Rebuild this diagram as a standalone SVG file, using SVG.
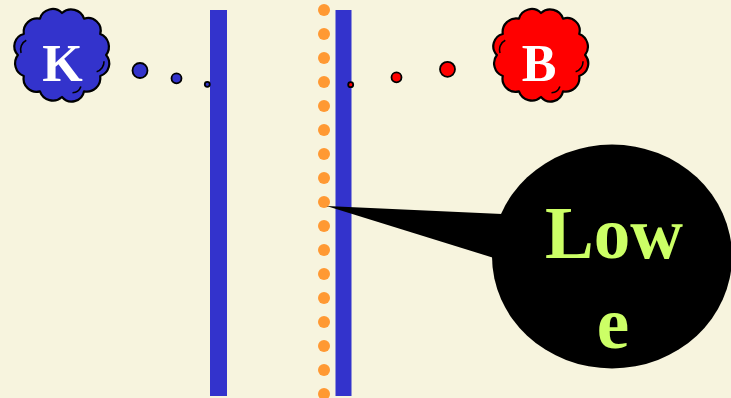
<svg xmlns="http://www.w3.org/2000/svg" xmlns:xlink="http://www.w3.org/1999/xlink" width="731" height="398" viewBox="0 0 731 398">
<style>
.bar{fill:#3333CC}
.dot{fill:#FF9933}
.cloud{stroke:#000;stroke-width:2.1;stroke-linejoin:round}
.puff{stroke:#000;stroke-width:1.8}
.inner{fill:none;stroke:#000;stroke-width:1.5}
.lbl{font-family:"Liberation Serif","Times New Roman",serif;font-weight:bold;text-anchor:middle}
</style>
<defs>
<path id="cloudShape" d="M42,0 A12.5,12.5 0 0 1 36.4,20 A13,13 0 0 1 21,34.6 A12,12 0 0 1 0,40 A13,13 0 0 1 -21,34.6 A12.5,12.5 0 0 1 -36.4,20 A13,13 0 0 1 -42,0 A12,12 0 0 1 -36.4,-20 A13,13 0 0 1 -21,-34.6 A12.5,12.5 0 0 1 0,-40 A13,13 0 0 1 21,-34.6 A12,12 0 0 1 36.4,-20 A13,13 0 0 1 42,0 Z"/>
<path id="cloudInner" d="M33,16 A10,10 0 0 0 40,6 M-34,-14 A10,10 0 0 0 -39,-2 M10,36 A9,9 0 0 0 18,30"/>
</defs>
<rect id="background" x="0" y="0" width="731" height="398" fill="#F7F4DE"/>
<g id="barLeft"><rect class="bar" x="210" y="10" width="17" height="386"/></g>
<g id="barRight"><rect class="bar" x="335.5" y="10" width="16" height="386"/></g>
<g id="dots">
<circle class="dot" cx="324" cy="10" r="6"/>
<circle class="dot" cx="324" cy="34" r="6"/>
<circle class="dot" cx="324" cy="58" r="6"/>
<circle class="dot" cx="324" cy="82" r="6"/>
<circle class="dot" cx="324" cy="106" r="6"/>
<circle class="dot" cx="324" cy="130" r="6"/>
<circle class="dot" cx="324" cy="154" r="6"/>
<circle class="dot" cx="324" cy="178" r="6"/>
<circle class="dot" cx="324" cy="202" r="6"/>
<circle class="dot" cx="324" cy="226" r="6"/>
<circle class="dot" cx="324" cy="250" r="6"/>
<circle class="dot" cx="324" cy="274" r="6"/>
<circle class="dot" cx="324" cy="298" r="6"/>
<circle class="dot" cx="324" cy="322" r="6"/>
<circle class="dot" cx="324" cy="346" r="6"/>
<circle class="dot" cx="324" cy="370" r="6"/>
<circle class="dot" cx="324" cy="394" r="6"/>
</g>
<g id="cloudK">
<use xlink:href="#cloudShape" href="#cloudShape" class="cloud" fill="#3333CC" transform="translate(62,55) scale(1.05)"/>
<use xlink:href="#cloudInner" href="#cloudInner" class="inner" transform="translate(62,55) scale(1.05)"/>
<text class="lbl" x="62.5" y="81" font-size="52" fill="#FFFFFF">K</text>
</g>
<g id="cloudB">
<use xlink:href="#cloudShape" href="#cloudShape" class="cloud" fill="#FF0000" transform="translate(541,55) scale(1.05)"/>
<use xlink:href="#cloudInner" href="#cloudInner" class="inner" transform="translate(541,55) scale(1.05)"/>
<text class="lbl" x="539" y="81" font-size="52" fill="#FFFFFF">B</text>
</g>
<g id="connectors">
<circle class="puff" cx="140" cy="70.5" r="7.5" fill="#3333CC"/>
<circle class="puff" cx="176.5" cy="78.3" r="5" fill="#3333CC"/>
<circle class="puff" cx="207.3" cy="84.3" r="2.5" fill="#3333CC"/>
<circle class="puff" cx="350.7" cy="84.7" r="2.5" fill="#FF0000"/>
<circle class="puff" cx="396.5" cy="77.3" r="5" fill="#FF0000"/>
<circle class="puff" cx="447.5" cy="69.3" r="7.5" fill="#FF0000"/>
</g>
<g id="callout">
<path d="M326.5,206 L502,214 L494,258 Z" fill="#000"/>
<ellipse cx="612" cy="256.5" rx="120" ry="112" fill="#000"/>
<text class="lbl" x="614" y="258" font-size="73" fill="#CCFF66">Low</text>
<text class="lbl" x="613" y="348" font-size="73" fill="#CCFF66">e</text>
</g>
</svg>
